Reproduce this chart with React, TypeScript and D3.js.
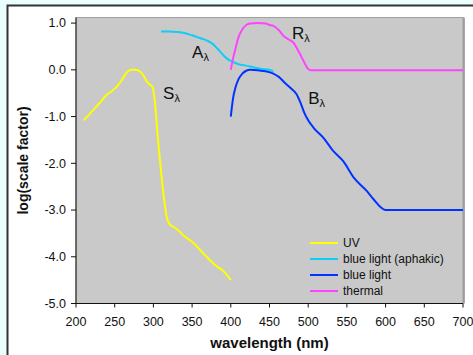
import * as d3 from 'd3';

const xTicks = [200, 250, 300, 350, 400, 450, 500, 550, 600, 650, 700];
const yTicks = [1, 0, -1, -2, -3, -4, -5];

const uvX = [210, 220, 230, 240, 245, 252, 258, 264, 268, 272, 277, 283, 287, 291, 295, 299, 302, 306, 310, 314, 318, 321, 328, 335, 340, 350, 360, 370, 380, 390, 400];
const uvY = [-1.08, -0.9, -0.72, -0.53, -0.47, -0.37, -0.25, -0.09, -0.02, 0, 0, -0.04, -0.12, -0.24, -0.31, -0.37, -0.7, -1.5, -2.2, -2.8, -3.2, -3.3, -3.38, -3.48, -3.56, -3.68, -3.85, -4.02, -4.18, -4.3, -4.5];

const aphX = [310, 320, 330, 340, 350, 360, 370, 377, 383, 390, 395, 400, 410, 420, 430, 440, 450, 455];
const aphY = [0.82, 0.82, 0.81, 0.79, 0.74, 0.68, 0.62, 0.55, 0.45, 0.32, 0.24, 0.19, 0.12, 0.09, 0.05, 0.02, 0, -0.04];

const blueX = [400, 403, 406, 410, 415, 420, 425, 435, 445, 455, 462, 470, 478, 485, 490, 495, 500, 507, 520, 532, 545, 560, 575, 585, 593, 600, 650, 700];
const blueY = [-1.0, -0.6, -0.38, -0.2, -0.08, -0.02, 0, -0.01, -0.03, -0.08, -0.15, -0.28, -0.4, -0.52, -0.7, -0.92, -1.08, -1.24, -1.46, -1.73, -1.95, -2.33, -2.58, -2.78, -2.93, -3.0, -3.0, -3.0];

const thermX = [400, 403, 406, 410, 415, 420, 425, 435, 445, 450, 455, 462, 468, 475, 481, 488, 494, 500, 503, 510, 600, 700];
const thermY = [0, 0.25, 0.45, 0.7, 0.87, 0.96, 0.99, 1.0, 0.99, 0.96, 0.94, 0.85, 0.73, 0.65, 0.58, 0.38, 0.19, 0.02, -0.01, -0.01, -0.01, -0.01];

const series = [
  { name: 'UV', xs: uvX, ys: uvY, color: '#ffff00' },
  { name: 'blue light (aphakic)', xs: aphX, ys: aphY, color: '#11ccf5' },
  { name: 'blue light', xs: blueX, ys: blueY, color: '#0033ff' },
  { name: 'thermal', xs: thermX, ys: thermY, color: '#ff44ff' },
];

const curveLabels = [
  { main: 'A', x: 350, y: 0.26 },
  { main: 'R', x: 479, y: 0.67 },
  { main: 'S', x: 312.5, y: -0.62 },
  { main: 'B', x: 500, y: -0.73 },
];

export default function App() {
  const W = 473;
  const H = 355;
  const x = d3.scaleLinear().domain([200, 700]).range([76, 463]);
  const y = d3.scaleLinear().domain([-5, 1.12]).range([303.5, 17.5]);
  const font = 'Arial, "Liberation Sans", sans-serif';

  const line = d3.line<[number, number]>()
    .x(d => x(d[0]))
    .y(d => y(d[1]))
    .curve(d3.curveMonotoneX);

  const [x0, x1] = x.range();
  const [yb, yt] = y.range();

  return (
    <svg width={W} height={H} style={{ position: 'absolute', left: 0, top: 0 }} fontFamily={font}>
      <rect x={0} y={0} width={W} height={H} fill="#eafefe" />
      <rect x={7.5} y={5.5} width={W + 10} height={H + 10} fill="#ffffff" stroke="#333" strokeWidth={2} />

      {/* plot area */}
      <rect x={x0} y={yt} width={x1 - x0} height={yb - yt} fill="#c9c9c9" stroke="#a0a0a0" strokeWidth={1} />
      <line x1={x1 + 1} x2={x1 + 1} y1={yt} y2={yb} stroke="#8c8c8c" strokeWidth={1.5} />

      {/* y axis */}
      <line x1={x0} x2={x0} y1={yt} y2={yb} stroke="#111" strokeWidth={1} />
      {yTicks.map(t => (
        <g key={t}>
          <line x1={x0 - 5} x2={x0} y1={y(t)} y2={y(t)} stroke="#111" />
          <text x={x0 - 10} y={y(t)} dy="0.35em" textAnchor="end" fontSize={12.5} fill="#111">
            {d3.format('.1f')(t).replace('−', '-')}
          </text>
        </g>
      ))}

      {/* x axis */}
      <line x1={x0} x2={x1} y1={yb} y2={yb} stroke="#111" strokeWidth={1} />
      {xTicks.map(t => (
        <g key={t}>
          <line x1={x(t)} x2={x(t)} y1={yb} y2={yb + 4} stroke="#111" />
          <text x={x(t)} y={325.5} textAnchor="middle" fontSize={12.5} fill="#111">{t}</text>
        </g>
      ))}

      <text x={(x0 + x1) / 2} y={348} textAnchor="middle" fontSize={15} fontWeight="bold" fill="#111">
        wavelength (nm)
      </text>
      <text transform={`translate(28,${(yt + yb) / 2}) rotate(-90)`} textAnchor="middle" fontSize={14} fontWeight="bold" fill="#111">
        log(scale factor)
      </text>

      {/* curves */}
      {series.map(s => (
        <path
          key={s.name}
          d={line(s.xs.map((v, i) => [v, s.ys[i]] as [number, number])) ?? ''}
          fill="none"
          stroke={s.color}
          strokeWidth={2}
          strokeLinejoin="round"
        />
      ))}

      {/* curve labels */}
      {curveLabels.map(l => (
        <text key={l.main} x={x(l.x)} y={y(l.y)} fontSize={17} fill="#111">
          {l.main}
          <tspan fontSize={11} dy={3}>λ</tspan>
        </text>
      ))}

      {/* legend */}
      {series.map((s, i) => (
        <g key={s.name} transform={`translate(310,${243 + i * 16})`}>
          <line x1={0} x2={28} y1={0} y2={0} stroke={s.color} strokeWidth={2} />
          <text x={33} y={0} dy="0.35em" fontSize={12} fill="#111">{s.name}</text>
        </g>
      ))}
    </svg>
  );
}
